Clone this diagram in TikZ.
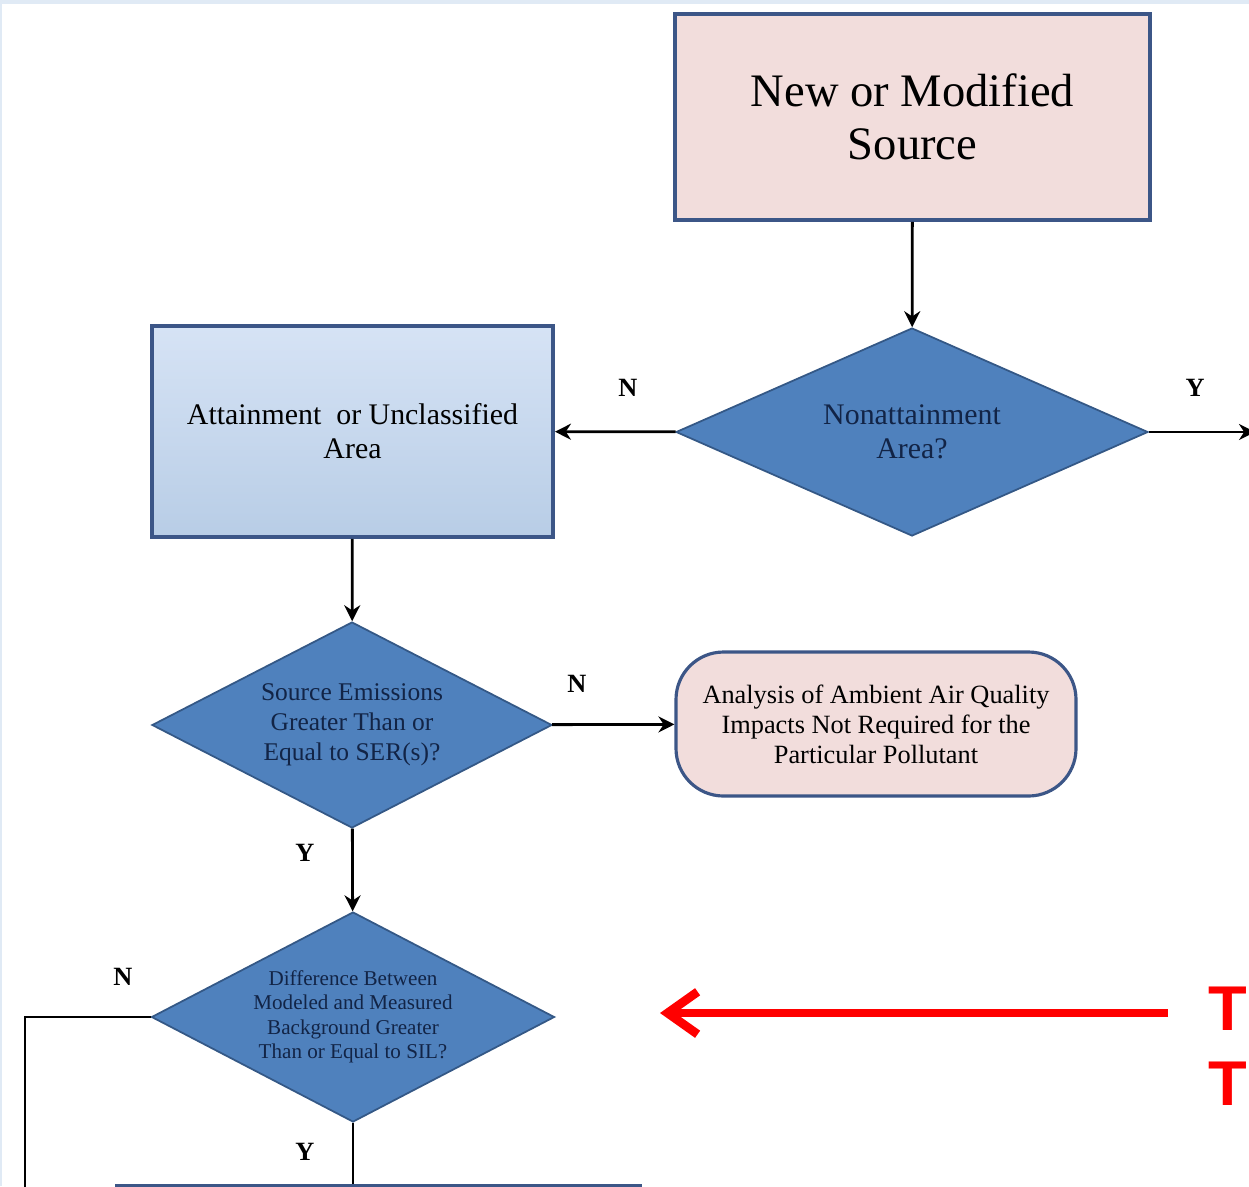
\documentclass[tikz,border=0pt]{standalone}
\usepackage{fontspec}
\setmainfont{Liberation Serif}
\newfontfamily\redsans{Liberation Sans}
\usetikzlibrary{arrows.meta,shapes.geometric}

\definecolor{boxpink}{RGB}{242,221,220}
\definecolor{boxedge}{RGB}{60,86,135}
\definecolor{diafill}{RGB}{79,129,189}
\definecolor{diaedge}{RGB}{52,88,134}
\definecolor{diatext}{RGB}{18,36,70}
\definecolor{areatop}{RGB}{214,227,245}
\definecolor{areabot}{RGB}{184,205,230}
\definecolor{stripblue}{RGB}{224,234,245}

\begin{document}
\begin{tikzpicture}[
    pinkbox/.style={draw=boxedge, line width=2.2pt, fill=boxpink, align=center},
    decision/.style={diamond, draw=diaedge, line width=1pt, fill=diafill,
        text=diatext, align=center, inner sep=0pt},
    flow/.style={line width=1.6pt, -{Stealth[length=3.2mm,width=3.2mm]}},
    yn/.style={font=\bfseries\fontsize{15}{18}\selectfont},
]
    % Page frame
    \clip (0,0) rectangle (24.98,-23.72);
    \fill[white] (0,0) rectangle (24.98,-23.72);
    \fill[stripblue] (0,0) rectangle (24.98,-0.08);
    \fill[stripblue] (0,0) rectangle (0.04,-23.72);

    % Boxes
    \node[pinkbox, minimum width=9.5cm, minimum height=4.12cm,
        font=\fontsize{26.5}{30}\selectfont] (src) at (18.25,-2.34)
        {New or Modified\\Source};
    \node[draw=boxedge, line width=2.2pt, top color=areatop, bottom color=areabot,
        align=center, minimum width=8.02cm, minimum height=4.22cm,
        font=\fontsize{17}{19.3}\selectfont] (attain) at (7.05,-8.63)
        {Attainment~~or Unclassified\\Area};
    \node[pinkbox, rounded corners=0.95cm, line width=1.8pt,
        minimum width=8cm, minimum height=2.88cm,
        font=\fontsize{15}{17}\selectfont] (noanalysis) at (17.52,-14.48)
        {Analysis of Ambient Air Quality\\Impacts Not Required for the\\Particular Pollutant};
    \node[draw=boxedge, line width=2.2pt, fill=boxpink, anchor=north,
        minimum width=10.46cm, minimum height=3cm] (nextbox) at (7.57,-23.68) {};

    % Decisions
    \node[decision, aspect=2.27, minimum width=9.44cm, minimum height=4.16cm,
        font=\fontsize{17}{19.3}\selectfont] (nonatt) at (18.24,-8.64)
        {Nonattainment\\Area?};
    \node[decision, aspect=1.94, minimum width=8cm, minimum height=4.12cm,
        font=\fontsize{14.5}{17}\selectfont] (ser) at (7.04,-14.5)
        {Source Emissions\\Greater Than or\\Equal to SER(s)?};
    \node[decision, aspect=1.92, minimum width=8.06cm, minimum height=4.2cm,
        font=\fontsize{12}{13.9}\selectfont] (sil) at (7.06,-20.34)
        {Difference Between\\Modeled and Measured\\Background Greater\\Than or Equal to SIL?};

    % Free ends
    \coordinate (yesout) at (25.1,-8.64);
    \coordinate (leftturn) at (0.5,-20.34);
    \coordinate (leftend) at (0.5,-24);

    % Connectors
    \draw[flow] (src) -- (nonatt);
    \draw[flow] (nonatt) -- (attain);
    \draw[flow] (nonatt.east) -- (yesout);
    \draw[flow] (attain) -- (ser);
    \draw[flow] (ser) -- (noanalysis);
    \draw[flow] (ser) -- (sil);
    \draw[line width=1.6pt] (sil.west) -- (leftturn) -- (leftend);
    \draw[line width=1.6pt] (sil.south) -- (sil.south |- nextbox.north);

    % Y / N labels
    \node[yn] (nleft) at (12.56,-7.76) {N};
    \node[yn] (yright) at (23.9,-7.76) {Y};
    \node[yn] (nser) at (11.54,-13.68) {N};
    \node[yn] (yser) at (6.1,-17.06) {Y};
    \node[yn] (nsil) at (2.46,-19.54) {N};
    \node[yn] (ysil) at (6.1,-23.04) {Y};

    % Red pointer
    \coordinate (redstart) at (23.36,-20.26);
    \coordinate (redend) at (13.2,-20.26);
    \draw[red, line width=5pt, -{Straight Barb[length=6mm,width=8.5mm]}] (redstart) -- (redend);
    \node[red, anchor=base west, inner sep=0pt,
        font=\redsans\bfseries\fontsize{36}{40}\selectfont] (redtop) at (24.16,-20.6) {T};
    \node[red, anchor=base west, inner sep=0pt,
        font=\redsans\bfseries\fontsize{36}{40}\selectfont] (redbot) at (24.16,-22.1) {T};
\end{tikzpicture}
\end{document}
